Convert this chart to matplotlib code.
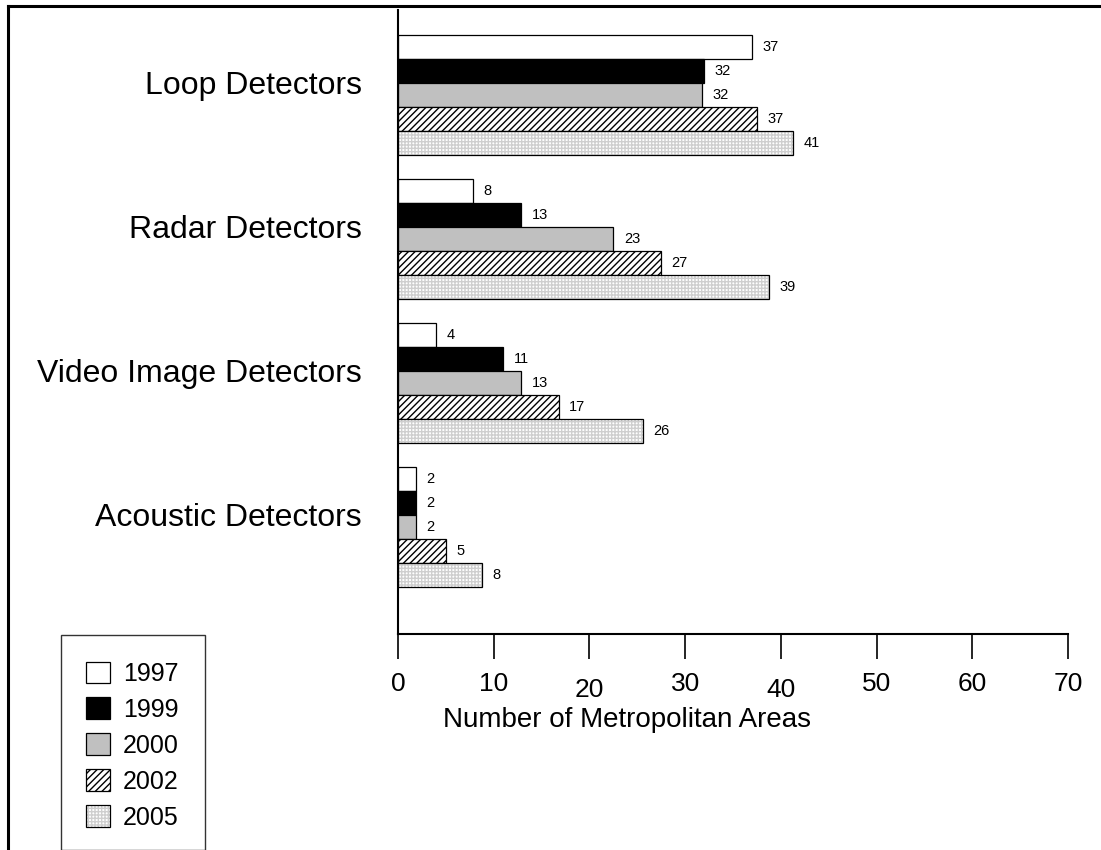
#!/usr/bin/env python
import numpy as np
import matplotlib
matplotlib.use("Agg")
import matplotlib.pyplot as plt
import matplotlib.transforms as mtransforms
from matplotlib.patches import Patch, Rectangle
from matplotlib.lines import Line2D
from matplotlib.legend_handler import HandlerTuple

plt.rcParams['font.family'] = ['Liberation Sans', 'DejaVu Sans']

categories = ["Loop Detectors", "Radar Detectors", "Video Image Detectors", "Acoustic Detectors"]
years = ["1997", "1999", "2000", "2002", "2005"]
# bar lengths as drawn, and the numbers printed next to them
lengths = {
    "1997": [37.0, 7.8, 4.0, 1.9],
    "1999": [32.0, 12.9, 11.0, 1.9],
    "2000": [31.8, 22.5, 12.9, 1.9],
    "2002": [37.5, 27.5, 16.8, 5.0],
    "2005": [41.3, 38.8, 25.6, 8.8],
}
labels = {
    "1997": [37, 8, 4, 2],
    "1999": [32, 13, 11, 2],
    "2000": [32, 23, 13, 2],
    "2002": [37, 27, 17, 5],
    "2005": [41, 39, 26, 8],
}
styles = {
    "1997": dict(color="white", hatch=None),
    "1999": dict(color="black", hatch=None),
    "2000": dict(color="#c0c0c0", hatch=None),
    "2002": dict(color="white", hatch="/////"),
    "2005": dict(color="white", hatch="+++++"),
}
dot_color = "#cfcfcf"

fig = plt.figure(figsize=(11.01, 8.5), dpi=100)
ax = fig.add_axes([0.3615, 0.2541, 0.6085, 0.7341])

ypos = np.arange(len(categories))[::-1]  # Loop at top
h = 1 / 6
for i, yr in enumerate(years):
    y = ypos + (2 - i) * h
    st = styles[yr]
    if yr == "2005":
        ax.barh(y, lengths[yr], height=h, color="white", edgecolor=dot_color,
                hatch=st["hatch"], linewidth=0, zorder=2)
        ax.barh(y, lengths[yr], height=h, fill=False, edgecolor="black",
                linewidth=0.9, zorder=3)
    else:
        ax.barh(y, lengths[yr], height=h, color=st["color"], edgecolor="black",
                hatch=st["hatch"], linewidth=0.9, zorder=2)
    for yy, v, lab in zip(y, lengths[yr], labels[yr]):
        ax.text(v + 1.1, yy, str(lab), va="center", ha="left", fontsize=10.5)

ax.set_xlim(0, 70)
ax.set_ylim(-0.743, 3.59)
ax.set_xticks(range(0, 71, 10))
ax.tick_params(axis="x", length=18, width=1.2, labelsize=19, pad=9, direction="out")
# the 20 and 40 labels sit a little lower in the original
for t in ax.get_xticklabels():
    if t.get_text() in ("20", "40"):
        t.set_transform(t.get_transform() +
                        mtransforms.ScaledTranslation(0, -6 / 100, fig.dpi_scale_trans))
ax.set_yticks(ypos + 0.085)
ax.set_yticklabels(categories, fontsize=23)
ax.tick_params(axis="y", length=0, pad=26)
for s in ["top", "right"]:
    ax.spines[s].set_visible(False)
ax.spines["left"].set_linewidth(1.5)
ax.spines["bottom"].set_linewidth(1.5)

fig.text(627 / 1101, 1 - 720 / 850, "Number of Metropolitan Areas", ha="center",
         va="center", fontsize=20)

# legend
handles = []
for yr in years:
    st = styles[yr]
    if yr == "2005":
        handles.append((Patch(facecolor="white", edgecolor=dot_color, hatch=st["hatch"], linewidth=0),
                        Patch(fill=False, edgecolor="black", linewidth=0.9)))
    else:
        handles.append(Patch(facecolor=st["color"], edgecolor="black", hatch=st["hatch"],
                             linewidth=0.9))
fig.legend(handles=handles, labels=years, loc="upper left",
           bbox_to_anchor=(73 / 1101, 1 - 649 / 850),
           handler_map={tuple: HandlerTuple(ndivide=1, pad=0)},
           frameon=False, fontsize=18, handlelength=0.96, handleheight=0.96,
           handletextpad=0.55, labelspacing=0.46, borderpad=0)
fig.patches.append(Rectangle((61 / 1101, 0), (205 - 61) / 1101, 1 - 635 / 850,
                             transform=fig.transFigure, fill=False,
                             edgecolor="#333333", linewidth=1.0))

# outer frame (left and top edges visible)
fig.add_artist(Line2D([8 / 1101, 1], [1 - 6 / 850, 1 - 6 / 850], color="black",
                      linewidth=2.2, transform=fig.transFigure))
fig.add_artist(Line2D([8 / 1101, 8 / 1101], [0, 1 - 6 / 850], color="black",
                      linewidth=2.2, transform=fig.transFigure))

fig.savefig("out.png", dpi=100)
